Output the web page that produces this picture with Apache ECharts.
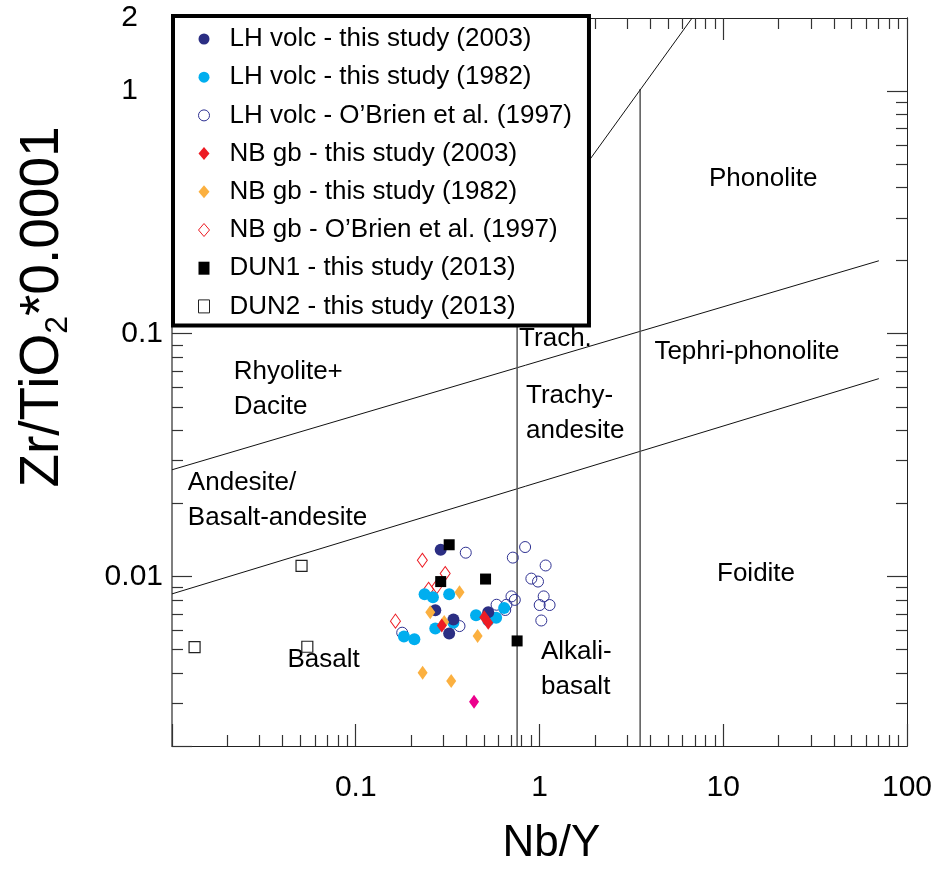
<!DOCTYPE html>
<html><head><meta charset="utf-8">
<script src="https://cdn.jsdelivr.net/npm/echarts@6/dist/echarts.min.js"></script>
<style>html,body{margin:0;padding:0;background:#fff}#c{width:935px;height:871px}</style>
</head><body><div id="c"></div>
<script>
// ---------- data (Nb/Y, Zr/TiO2*0.0001) ----------
const lhVolc2003 = [[0.290,0.01288],[0.271,0.00725],[0.340,0.00664],[0.3225,0.00581],[0.526,0.00712]];
const lhVolc1982 = [[0.237,0.00845],[0.263,0.00821],[0.3225,0.00845],[0.271,0.0061],[0.340,0.00644],[0.4515,0.00692],[0.526,0.00658],[0.581,0.00675],[0.183,0.00565],[0.2085,0.00551],[0.642,0.00741]];
const lhVolcOBrien = [[0.397,0.01252],[0.716,0.01195],[0.835,0.01321],[1.080,0.01109],[0.903,0.00979],[0.9815,0.00952],[1.054,0.00827],[1.0025,0.00762],[1.135,0.00762],[1.023,0.00658],[0.704,0.00827],[0.734,0.0080],[0.661,0.00764],[0.651,0.00727],[0.584,0.00764],[0.367,0.00624],[0.179,0.00586]];
const nbGb2003 = [[0.294,0.00628],[0.5006,0.00679],[0.526,0.00644]];
const nbGb2003Pink = [[0.4404,0.003043]];
const nbGb1982 = [[0.367,0.00861],[0.2544,0.00712],[0.303,0.00648],[0.4606,0.00568],[0.2312,0.004004],[0.3307,0.003705]];
const nbGbOBrien = [[0.2304,0.01165],[0.3068,0.01028],[0.2763,0.00908],[0.2491,0.00885],[0.1645,0.00654]];
const dun1 = [[0.3225,0.0135],[0.290,0.00952],[0.5087,0.00975],[0.7555,0.00542]];
const dun2 = [[0.0507,0.01105],[0.01327,0.00511],[0.0545,0.00513]];

const seriesNames = [
  'LH volc - this study (2003)',
  'LH volc - this study (1982)',
  'LH volc - O\u2019Brien et al. (1997)',
  'NB gb - this study (2003)',
  'NB gb - this study (1982)',
  'NB gb - O\u2019Brien et al. (1997)',
  'DUN1 - this study (2013)',
  'DUN2 - this study (2013)'
];

// field boundaries (Nb/Y, Zr/TiO2*0.0001)
const boundaryUpper = [[0.01,0.0275],[70.3,0.1998]];
const boundaryLower = [[0.01,0.00847],[70.3,0.0653]];
const boundaryVert1 = [[0.7555,0.002],[0.7555,0.201]];
const boundaryVert2 = [[3.53,0.002],[3.53,1.02]];
const boundaryDiag  = [[0.7555,0.201],[6.77,2.0]];

// field names [text, Nb/Y (left edge), Zr/TiO2 (centre)]
const fieldLabels = [
  ['Phonolite', 8.37, 0.436],
  ['Tephri-phonolite', 4.22, 0.0846],
  ['Trach.', 0.7745, 0.0956],
  ['Trachy-\nandesite', 0.845, 0.0469],
  ['Rhyolite+\nDacite', 0.02166, 0.059],
  ['Andesite/\nBasalt-andesite', 0.0122, 0.02067],
  ['Basalt', 0.04247, 0.00451],
  ['Foidite', 9.25, 0.01028],
  ['Alkali-\nbasalt', 1.019, 0.004126]
];

// axis ticks
const xMajorTicks = [0.01, 0.1, 1, 10, 100];
const xMinorTicks = [];
[0.01, 0.1, 1, 10].forEach(d => { for (let k = 2; k <= 9; k++) xMinorTicks.push(k * d); });
const yMajorTicks = [0.01, 0.1, 1];
const yMinorTicks = [];
[0.001, 0.01, 0.1].forEach(d => { for (let k = 2; k <= 9; k++) { const v = k * d; if (v > 0.0021) yMinorTicks.push(v); } });
const xTickLabels = ['0.1', '1', '10', '100'];
const yTickLabels = ['0.01', '0.1', '1', '2'];

// ---------- chart ----------
const FONT = '"Liberation Sans", Arial, Helvetica, sans-serif';
const L10 = v => Math.log10(v);
const X_MIN = 0.01, X_MAX = 100, Y_MIN = 0.002, Y_MAX = 2;
const chart = echarts.init(document.getElementById('c'), null, {renderer: 'canvas'});

function helperX(pos, ticks, len) {
  return {
    type: 'value', position: pos, min: L10(X_MIN), max: L10(X_MAX),
    axisLine: {show: pos === 'top', onZero: false, lineStyle: {color: '#222', width: 1}},
    axisTick: {show: true, inside: true, length: len, customValues: ticks.map(L10), lineStyle: {color: '#333', width: 1.2}},
    axisLabel: {show: false}, splitLine: {show: false}
  };
}
function helperY(pos, ticks, len) {
  return {
    type: 'value', position: pos, min: L10(Y_MIN), max: L10(Y_MAX),
    axisLine: {show: pos === 'right', onZero: false, lineStyle: {color: '#222', width: 1}},
    axisTick: {show: true, inside: true, length: len, customValues: ticks.map(L10), lineStyle: {color: '#333', width: 1.2}},
    axisLabel: {show: false}, splitLine: {show: false}
  };
}

const styles = [
  {symbol: 'circle', size: 12, item: {color: '#2b2e83', opacity: 1}},
  {symbol: 'circle', size: 12, item: {color: '#00aeef', opacity: 1}},
  {symbol: 'circle', size: 11, item: {color: 'rgba(255,255,255,0)', borderColor: '#2e3192', borderWidth: 1, opacity: 1}},
  {symbol: 'diamond', size: [10, 14], item: {color: '#ed1c24', opacity: 1}},
  {symbol: 'diamond', size: [10, 14], item: {color: '#fbb040', opacity: 1}},
  {symbol: 'diamond', size: [10, 14], item: {color: 'rgba(255,255,255,0)', borderColor: '#ed1c24', borderWidth: 1, opacity: 1}},
  {symbol: 'rect', size: 11, item: {color: '#000', opacity: 1}},
  {symbol: 'rect', size: 11, item: {color: 'rgba(255,255,255,0)', borderColor: '#222', borderWidth: 1.2, opacity: 1}}
];
const dataSets = [lhVolc2003, lhVolc1982, lhVolcOBrien, nbGb2003, nbGb1982, nbGbOBrien, dun1, dun2];
const drawOrder = [2, 5, 1, 0, 4, 3, 6, 7];

const series = [];
function lineSeries(data, color, width) {
  return {type: 'line', data: data, xAxisIndex: 0, yAxisIndex: 0, symbol: 'none', silent: true, z: 1,
          lineStyle: {color: color, width: width}, animation: false};
}
series.push(lineSeries(boundaryUpper, '#111', 1));
series.push(lineSeries(boundaryLower, '#111', 1));
series.push(lineSeries(boundaryVert1, '#555', 1.5));
series.push(lineSeries(boundaryVert2, '#555', 1.5));
series.push(lineSeries(boundaryDiag, '#111', 1));
series.push({
  type: 'scatter', xAxisIndex: 0, yAxisIndex: 0, symbolSize: 0, silent: true, z: 1,
  itemStyle: {opacity: 1},
  data: fieldLabels.map(f => ({value: [f[1], f[2]], name: f[0]})),
  label: {show: true, position: 'right', distance: 0, formatter: p => p.name, color: '#000', opacity: 1,
          fontFamily: FONT, fontSize: 26, lineHeight: 35, align: 'left', verticalAlign: 'middle'},
  animation: false
});
drawOrder.forEach(i => {
  series.push({
    type: 'scatter', name: seriesNames[i], xAxisIndex: 0, yAxisIndex: 0,
    symbol: styles[i].symbol, symbolSize: styles[i].size, itemStyle: styles[i].item,
    data: dataSets[i], z: 3, animation: false
  });
});
series.push({
  type: 'scatter', name: seriesNames[3], xAxisIndex: 0, yAxisIndex: 0,
  symbol: 'diamond', symbolSize: [10, 14], itemStyle: {color: '#ec008c', opacity: 1},
  data: nbGb2003Pink, z: 3, animation: false
});

const legendData = seriesNames.map((n, i) => {
  const it = {name: n, icon: styles[i].symbol};
  if (i === 2 || i === 5 || i === 7) it.itemStyle = {borderWidth: 1, borderColor: styles[i].item.borderColor, color: 'rgba(255,255,255,0)'};
  return it;
});

const tickFont = {fontFamily: FONT, fontSize: 30, color: '#000'};

chart.setOption({
  animation: false,
  backgroundColor: '#fff',
  grid: {left: 172, right: 24, top: 18, bottom: 116, containLabel: false},
  legend: {
    orient: 'vertical', left: 173, top: 16,
    padding: [8, 17, 4, 25], itemGap: 8.2, itemWidth: 11, itemHeight: 13,
    borderColor: '#000', borderWidth: 4, backgroundColor: '#fff', z: 10,
    selectedMode: false,
    textStyle: {fontFamily: FONT, fontSize: 26, color: '#000', lineHeight: 30, padding: [0, 0, 0, 15]},
    data: legendData
  },
  xAxis: [
    {
      type: 'log', logBase: 10, min: X_MIN, max: X_MAX, position: 'bottom',
      axisLine: {show: true, onZero: false, lineStyle: {color: '#222', width: 1.2}},
      axisTick: {show: true, inside: true, length: 22, lineStyle: {color: '#333', width: 1.2}},
      axisLabel: Object.assign({show: true, margin: 27,
                  formatter: v => { const s = xTickLabels.find(t => Math.abs(parseFloat(t) - v) < v * 1e-6); return s || ''; }}, tickFont),
      splitLine: {show: false}, minorTick: {show: false},
      name: 'Nb/Y', nameLocation: 'middle', nameGap: 76,
      nameTextStyle: {fontFamily: FONT, fontSize: 44, color: '#000', padding: [0, 0, 0, 24]}
    },
    helperX('bottom', xMinorTicks, 11),
    helperX('top', xMajorTicks, 22),
    helperX('top', xMinorTicks, 11)
  ],
  yAxis: [
    {
      type: 'log', logBase: 10, min: Y_MIN, max: Y_MAX, position: 'left',
      axisLine: {show: true, onZero: false, lineStyle: {color: '#555', width: 1.5}},
      axisTick: {show: true, inside: true, length: 20, lineStyle: {color: '#333', width: 1.2}},
      axisLabel: Object.assign({show: true, margin: 9,
                  formatter: v => {
                    const s = yTickLabels.find(t => Math.abs(parseFloat(t) - v) < v * 1e-6);
                    if (!s) return '';
                    return parseFloat(s) >= 1 ? '{r|' + s + '}' : s;
                  },
                  rich: {r: {fontFamily: FONT, fontSize: 30, color: '#000', padding: [0, 25, 0, 0]}}}, tickFont),
      splitLine: {show: false},
      name: 'Zr/TiO{s|2}*0.0001', nameLocation: 'middle', nameGap: 98, nameRotate: 90,
      nameTextStyle: {fontFamily: FONT, fontSize: 55, color: '#000', lineHeight: 62, padding: [0, 0, 0, 150],
                      rich: {s: {fontFamily: FONT, fontSize: 32, verticalAlign: 'bottom', lineHeight: 46}}}
    },
    helperY('left', yMinorTicks, 11),
    helperY('right', yMajorTicks, 20),
    helperY('right', yMinorTicks, 11)
  ],
  series: series
});
</script>
</body></html>
